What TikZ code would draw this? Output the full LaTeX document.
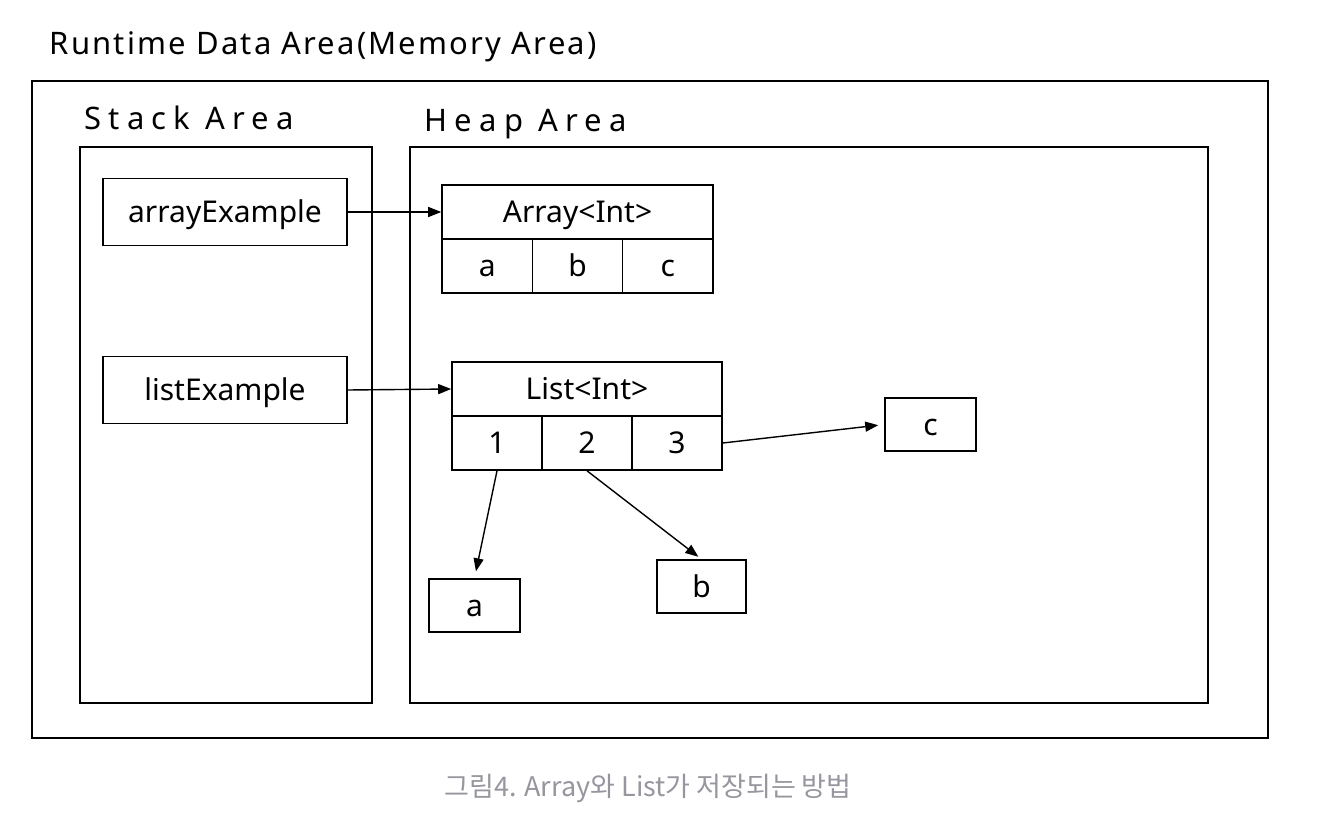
\documentclass[tikz,border=0pt]{standalone}
\usepackage{fontspec}
\usepackage{tikz}
\usetikzlibrary{arrows.meta,positioning,calc}
\setmainfont{Noto Sans}
\newfontfamily\titlefont[LetterSpace=7]{Noto Sans}
\newfontfamily\areafont[LetterSpace=23]{Noto Sans}
\newfontfamily\capfont{Noto Sans CJK KR}
\definecolor{capgray}{HTML}{96969E}

\begin{document}
\begin{tikzpicture}[x=1pt,y=-1pt,>={Triangle[length=13pt,width=10pt]},line width=1.6pt]
    \tikzset{
      cellbox/.style={draw,inner sep=0pt,text height=21pt,text depth=0pt,font=\fontsize{30}{34}\selectfont},
      ptr/.style={->,line width=1.4pt}
    }
    \useasboundingbox (0,0) rectangle (1332,834);
    % outer areas
    \node[anchor=base west,inner sep=0pt,font=\titlefont\fontsize{31}{36}\selectfont] (title) at (49,55) {Runtime Data Area(Memory Area)};
    \node[draw,minimum width=1236pt,minimum height=657pt,inner sep=0pt] (runtime) at (650,409.5) {};
    \node[anchor=base west,inner sep=0pt,font=\areafont\fontsize{31}{36}\selectfont] (stacklbl) at (84,130) {Stack Area};
    \node[anchor=base west,inner sep=0pt,font=\areafont\fontsize{31}{36}\selectfont] (heaplbl) at (424,132) {Heap Area};
    \node[draw,minimum width=292pt,minimum height=556pt,inner sep=0pt] (stack) at (226,425) {};
    \node[draw,minimum width=798pt,minimum height=556pt,inner sep=0pt] (heap) at (809,425) {};
    % stack variables
    \node[cellbox,minimum width=244pt,minimum height=67pt] (arrayVar) at (225,212) {arrayExample};
    \node[cellbox,minimum width=244pt,minimum height=67pt] (listVar) at (225,390) {listExample};
    % array object
    \node[cellbox,minimum width=271pt,minimum height=54pt] (arrHead) at (577.5,212) {Array<Int>};
    \foreach \i/\t in {0/a,1/b,2/c} {
      \node[cellbox,minimum width=90.3pt,minimum height=54pt] (arr\i) at (487.2+90.3*\i,266) {\t};
    }
    % list object
    \node[cellbox,minimum width=270pt,minimum height=54pt] (listHead) at (587,389) {List<Int>};
    \foreach \i/\t in {0/1,1/2,2/3} {
      \node[cellbox,minimum width=90pt,minimum height=54pt] (lst\i) at (497+90*\i,443) {\t};
    }
    \node[cellbox,minimum width=91pt,minimum height=53pt] (elemA) at (474.5,605.5) {a};
    \node[cellbox,minimum width=89pt,minimum height=53pt] (elemB) at (701.5,586.5) {b};
    \node[cellbox,minimum width=91pt,minimum height=53pt] (elemC) at (930.5,424.5) {c};
    % references
    \draw[ptr] (arrayVar.east) -- (arrHead.west);
    \draw[ptr] (listVar.east) -- (listHead.west);
    \draw[ptr,shorten >=7pt] (lst0.south) -- (elemA.north);
    \draw[ptr,shorten >=4pt] (lst1.south) -- (elemB.north);
    \draw[ptr,shorten >=6pt] (lst2.east) -- (elemC.west);
    % caption
    \node[anchor=base,text=capgray,font=\capfont\fontsize{27}{31}\selectfont] (caption) at (648,796) {그림4. Array와 List가 저장되는 방법};
\end{tikzpicture}
\end{document}
